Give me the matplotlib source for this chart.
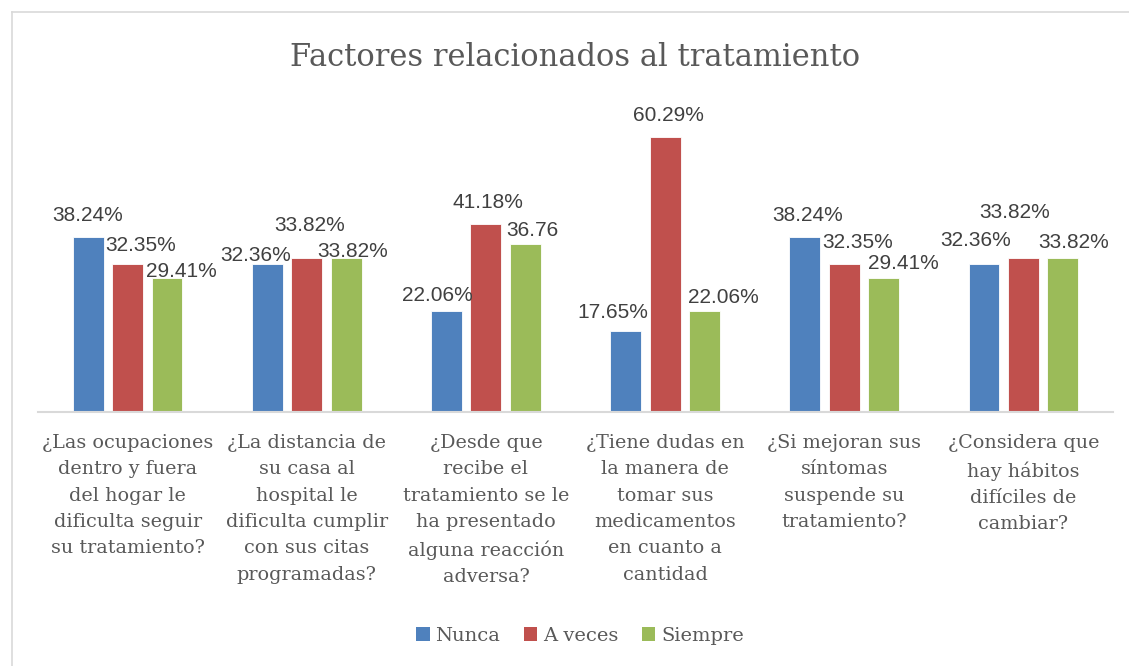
import matplotlib
matplotlib.use("Agg")
import matplotlib.pyplot as plt
from matplotlib.patches import Patch
from matplotlib.lines import Line2D

categories = [
    "¿Las ocupaciones\ndentro y fuera\ndel hogar le\ndificulta seguir\nsu tratamiento?",
    "¿La distancia de\nsu casa al\nhospital le\ndificulta cumplir\ncon sus citas\nprogramadas?",
    "¿Desde que\nrecibe el\ntratamiento se le\nha presentado\nalguna reacción\nadversa?",
    "¿Tiene dudas en\nla manera de\ntomar sus\nmedicamentos\nen cuanto a\ncantidad",
    "¿Si mejoran sus\nsíntomas\nsuspende su\ntratamiento?",
    "¿Considera que\nhay hábitos\ndifíciles de\ncambiar?",
]
series_names = ["Nunca", "A veces", "Siempre"]
nunca = [38.24, 32.36, 22.06, 17.65, 38.24, 32.36]
a_veces = [32.35, 33.82, 41.18, 60.29, 32.35, 33.82]
siempre = [29.41, 33.82, 36.76, 22.06, 29.41, 33.82]
# labels as printed on the chart
nunca_labels = ["38.24%", "32.36%", "22.06%", "17.65%", "38.24%", "32.36%"]
a_veces_labels = ["32.35%", "33.82%", "41.18%", "60.29%", "32.35%", "33.82%"]
siempre_labels = ["29.41%", "33.82%", "36.76", "22.06%", "29.41%", "33.82%"]

# style: colours and label offsets (pixels, dx right, dy up from bar top)
colors = ["#4f81bd", "#c0504d", "#9bbb59"]
label_offsets = [
    [(-0.5, 22), (-11.5, 9), (-9, 16), (-13, 19), (2.5, 22), (-8.5, 24)],
    [(13.5, 19), (2.5, 32), (2.5, 22), (3, 22), (13.5, 22), (-8.5, 45)],
    [(14.5, 6), (6.5, 6), (7.5, 14), (18.5, 14), (19.5, 14), (11, 15)],
]

W, H = 1129, 666
fig = plt.figure(figsize=(W / 100, H / 100), dpi=100)

# chart border
border_col = "#d9d9d9"
fig.add_artist(Line2D([12 / W, 1.0], [1 - 12 / H, 1 - 12 / H], transform=fig.transFigure,
                      color=border_col, lw=1.2))
fig.add_artist(Line2D([12 / W, 12 / W], [0, 1 - 12 / H], transform=fig.transFigure,
                      color=border_col, lw=1.2))

base_y = 411.5
top_y = 92.8
ax = fig.add_axes([38 / W, (H - base_y) / H, 1075 / W, (base_y - top_y) / H])
ax.set_xlim(-0.5, len(categories) - 0.5)
ax.set_ylim(0, 70)

bar_w = 0.173
step = 0.22
all_vals = [nunca, a_veces, siempre]
all_labels = [nunca_labels, a_veces_labels, siempre_labels]
x = list(range(len(categories)))
for si, (vals, labs) in enumerate(zip(all_vals, all_labels)):
    xs = [xi + (si - 1) * step for xi in x]
    ax.bar(xs, vals, width=bar_w, color=colors[si], edgecolor="white", linewidth=0.6,
           label=series_names[si], zorder=2)
    for xi, v, lab, (dx, dy) in zip(xs, vals, labs, label_offsets[si]):
        ax.annotate(lab, (xi, v), xytext=(dx, dy), textcoords="offset pixels",
                    ha="center", va="center", fontsize=15, color="#404040",
                    family="Liberation Sans", zorder=3)

for s in ["top", "right", "left"]:
    ax.spines[s].set_visible(False)
ax.spines["bottom"].set_color("#d9d9d9")
ax.spines["bottom"].set_linewidth(1.5)
ax.set_yticks([])
ax.set_xticks(x)
ax.set_xticklabels(categories, fontsize=13.8, family="DejaVu Serif", color="#595959",
                   linespacing=1.6, va="top", ha="center")
ax.tick_params(axis="x", length=0, pad=16)

fig.text(575 / W, 1 - 57 / H, "Factores relacionados al tratamiento", ha="center", va="center",
         fontsize=22, family="DejaVu Serif", color="#595959")

handles = [Patch(facecolor=c, edgecolor="none") for c in colors]
fig.legend(handles, series_names, loc="center", bbox_to_anchor=(580 / W, 1 - 636 / H),
           ncol=3, frameon=False, prop={"family": "DejaVu Serif", "size": 14},
           labelcolor="#595959", handlelength=0.7, handleheight=0.7, handletextpad=0.3,
           columnspacing=1.2)

fig.savefig("out.png", dpi=100, facecolor="white")
